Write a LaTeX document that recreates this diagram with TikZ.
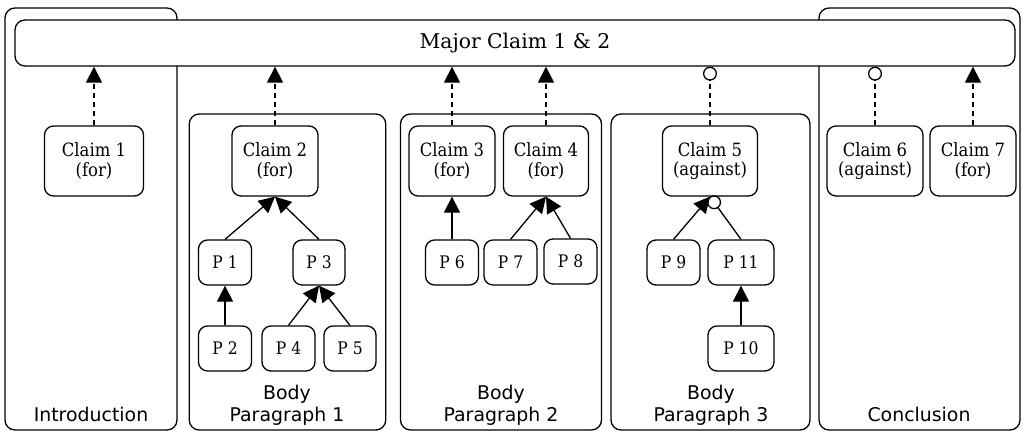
\documentclass[tikz,border=0pt]{standalone}
\usepackage{fontspec}
\setmainfont{DejaVu Serif}
\newfontfamily\condfont[FakeStretch=0.9]{DejaVu Serif}
\newfontfamily\grpfont{DejaVu Sans}
\usetikzlibrary{arrows.meta}
\tikzset{
  grp/.style={draw, rounded corners=10pt, line width=1.3pt, inner sep=0pt},
  mcbox/.style={draw, rounded corners=10pt, line width=1.3pt, fill=white, inner sep=0pt,
    font=\fontsize{20.3}{24}\selectfont},
  clbox/.style={draw, rounded corners=9pt, line width=1.3pt, fill=white, inner sep=0pt,
    align=center, font=\condfont\fontsize{18.3}{19.8}\selectfont},
  pbox/.style={draw, rounded corners=9pt, line width=1.3pt, fill=white, inner sep=0pt,
    font=\condfont\fontsize{17.3}{19}\selectfont},
  grplabel/.style={anchor=base, align=center, inner sep=0pt, font=\grpfont\fontsize{18.9}{21.5}\selectfont},
  suparrow/.style={line width=1.3pt, -{Triangle[length=16pt,width=16pt]}},
  attarrow/.style={line width=1.3pt, -{Circle[open,length=14pt,line width=1.3pt]}},
  supdash/.style={suparrow, dash pattern=on 5pt off 4pt},
  attdash/.style={attarrow, dash pattern=on 5pt off 4pt},
}
\begin{document}
\begin{tikzpicture}[x=1pt,y=-1pt]
\useasboundingbox (0,0) rectangle (1023,431);
% group boxes
\node[grp, minimum width=172pt, minimum height=422pt] (intro) at (91,219) {};
\node[grp, minimum width=201pt, minimum height=422pt] (concl) at (919.5,219) {};
\node[grp, minimum width=196.5pt, minimum height=316pt] (bp1) at (287.5,272) {};
\node[grp, minimum width=201pt, minimum height=316pt] (bp2) at (501,272) {};
\node[grp, minimum width=199pt, minimum height=316pt] (bp3) at (710.5,272) {};
% major claim
\node[mcbox, minimum width=1000pt, minimum height=46pt] (mc) at (515,43) {Major Claim 1 \& 2};
% claims
\node[clbox, minimum width=99pt, minimum height=70pt] (c1) at (94,161) {Claim 1\\(for)};
\node[clbox, minimum width=86pt, minimum height=70pt] (c2) at (275,161) {Claim 2\\(for)};
\node[clbox, minimum width=86pt, minimum height=70pt] (c3) at (452,161) {Claim 3\\(for)};
\node[clbox, minimum width=85pt, minimum height=70pt] (c4) at (546,161) {Claim 4\\(for)};
\node[clbox, minimum width=95pt, minimum height=70pt] (c5) at (710,161) {Claim 5\\(against)};
\node[clbox, minimum width=96pt, minimum height=70pt] (c6) at (875,161) {Claim 6\\(against)};
\node[clbox, minimum width=86pt, minimum height=70pt] (c7) at (973,161) {Claim 7\\(for)};
% premises
\node[pbox, minimum width=53pt, minimum height=45pt] (p1) at (225,262.5) {P 1};
\node[pbox, minimum width=52pt, minimum height=45pt] (p3) at (319,262.5) {P 3};
\node[pbox, minimum width=53pt, minimum height=45pt] (p2) at (225,348.5) {P 2};
\node[pbox, minimum width=53pt, minimum height=45pt] (p4) at (288.5,348.5) {P 4};
\node[pbox, minimum width=52pt, minimum height=45pt] (p5) at (350,348.5) {P 5};
\node[pbox, minimum width=53pt, minimum height=45pt] (p6) at (452,262.5) {P 6};
\node[pbox, minimum width=53pt, minimum height=45pt] (p7) at (510.5,262.5) {P 7};
\node[pbox, minimum width=53pt, minimum height=45pt] (p8) at (570.5,261.5) {P 8};
\node[pbox, minimum width=53pt, minimum height=45pt] (p9) at (673.5,262.5) {P 9};
\node[pbox, minimum width=66pt, minimum height=45pt] (p11) at (741,262.5) {P 11};
\node[pbox, minimum width=66pt, minimum height=45pt] (p10) at (741,348.5) {P 10};
% group labels
\node[grplabel] (lintro) at (91,421) {Introduction};
\node[grplabel] (lbp1) at (287,421) {Body\\Paragraph 1};
\node[grplabel] (lbp2) at (501,421) {Body\\Paragraph 2};
\node[grplabel] (lbp3) at (711,421) {Body\\Paragraph 3};
\node[grplabel] (lconcl) at (919,421) {Conclusion};
% claim -> major claim
\draw[supdash] (c1.north) -- (c1.north |- mc.south);
\draw[supdash] (c2.north) -- (c2.north |- mc.south);
\draw[supdash] (c3.north) -- (c3.north |- mc.south);
\draw[supdash] (c4.north) -- (c4.north |- mc.south);
\draw[attdash] (c5.north) -- (c5.north |- mc.south);
\draw[attdash] (c6.north) -- (c6.north |- mc.south);
\draw[supdash] (c7.north) -- (c7.north |- mc.south);
% premises
\draw[suparrow] (p1.north) -- (c2.south);
\draw[suparrow] (p3.north) -- (c2.south);
\draw[suparrow] (p2.north) -- (p1.south);
\draw[suparrow] (p4.north) -- (p3.south);
\draw[suparrow] (p5.north) -- (p3.south);
\draw[suparrow] (p6.north) -- (c3.south);
\draw[suparrow] (p7.north) -- (c4.south);
\draw[suparrow] (p8.north) -- (c4.south);
\draw[suparrow] (p9.north) -- (c5.south);
\draw[attarrow] (p11.north) -- (c5.south);
\draw[suparrow] (p10.north) -- (p11.south);
\end{tikzpicture}
\end{document}
